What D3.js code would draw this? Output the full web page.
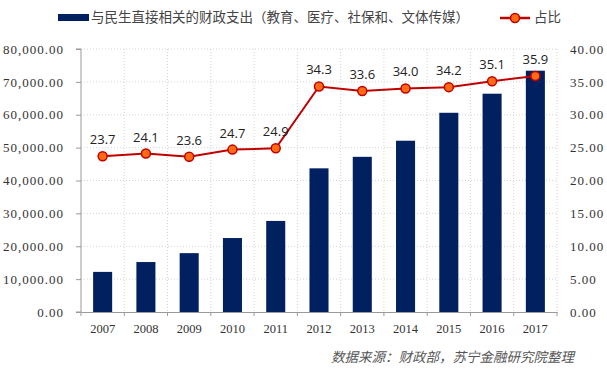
<!DOCTYPE html>
<html>
<head>
<meta charset="utf-8">
<script src="https://cdn.jsdelivr.net/npm/d3@7"></script>
<style>
  body { margin: 0; background: #fff; }
  svg text { font-family: "Noto Sans CJK SC", sans-serif; }
</style>
</head>
<body>
<div id="chart"></div>
<script>
const years = ['2007', '2008', '2009', '2010', '2011', '2012', '2013', '2014', '2015', '2016', '2017']
const spending = [12200, 15200, 17900, 22500, 27700, 43700, 47200, 52100, 60600, 66400, 73400]
const share = [23.7, 24.1, 23.6, 24.7, 24.9, 34.3, 33.6, 34.0, 34.2, 35.1, 35.9]
const leftTicks = [0, 10000, 20000, 30000, 40000, 50000, 60000, 70000, 80000]
const rightTicks = [0, 5, 10, 15, 20, 25, 30, 35, 40]
const barName = '与民生直接相关的财政支出（教育、医疗、社保和、文体传媒）'
const lineName = '占比'
const sourceNote = '数据来源：财政部，苏宁金融研究院整理'

const width = 607, height = 370
const margin = {top: 49, right: 50, bottom: 58, left: 81}
const innerW = width - margin.left - margin.right
const innerH = height - margin.top - margin.bottom

const svg = d3.select('#chart').append('svg')
  .attr('width', width)
  .attr('height', height)
const g = svg.append('g')
  .attr('transform', `translate(${margin.left}, ${margin.top})`)

const x = d3.scaleBand().domain(years).range([0, innerW]).paddingInner(0.56).paddingOuter(0.28)
const xb = d3.scaleBand().domain(years).range([0, innerW])
const yL = d3.scaleLinear().domain([0, 80000]).range([innerH, 0])
const yR = d3.scaleLinear().domain([0, 40]).range([innerH, 0])

// grid
g.selectAll('.hgrid')
  .data(leftTicks.slice(1))
  .enter().append('line')
  .attr('x1', 0).attr('x2', innerW)
  .attr('y1', d => yL(d)).attr('y2', d => yL(d))
  .attr('stroke', '#d4d4d4').attr('stroke-dasharray', '1,2')
g.selectAll('.vgrid')
  .data(years.slice(1).concat(['end']))
  .enter().append('line')
  .attr('x1', (d, i) => xb.step() * (i + 1)).attr('x2', (d, i) => xb.step() * (i + 1))
  .attr('y1', 0).attr('y2', innerH)
  .attr('stroke', '#d4d4d4').attr('stroke-dasharray', '1,2')

// bars
g.selectAll('.bar')
  .data(spending)
  .enter().append('rect')
  .attr('x', (d, i) => x(years[i]))
  .attr('y', d => yL(d))
  .attr('width', x.bandwidth())
  .attr('height', d => innerH - yL(d))
  .attr('fill', '#002060')

// left axis
const axL = g.append('g')
  .call(d3.axisLeft(yL).tickValues(leftTicks).tickSize(5).tickFormat(d3.format(',.2f')))
axL.select('.domain').attr('stroke', '#999').attr('d', `M-5,${innerH}H0V0H-5`)
axL.selectAll('.tick line').attr('stroke', '#999')
axL.selectAll('text')
  .attr('x', -17)
  .style('font-family', '"Liberation Serif", serif')
  .style('font-size', '13px')
  .style('letter-spacing', '1px')
  .attr('fill', '#333')

// right axis
const axR = g.append('g')
  .attr('transform', `translate(${innerW}, 0)`)
  .call(d3.axisRight(yR).tickValues(rightTicks).tickSize(0).tickFormat(d3.format('.2f')))
axR.select('.domain').remove()
axR.selectAll('text')
  .attr('x', 13)
  .style('font-family', '"Liberation Serif", serif')
  .style('font-size', '13px')
  .style('letter-spacing', '1px')
  .attr('fill', '#333')

// bottom axis
const axB = g.append('g')
  .attr('transform', `translate(0, ${innerH})`)
  .call(d3.axisBottom(xb).tickSize(0))
axB.select('.domain').attr('stroke', '#999')
axB.selectAll('.tick line').remove()
axB.selectAll('.sep')
  .data(d3.range(years.length + 1))
  .enter().append('line')
  .attr('x1', i => xb.step() * i).attr('x2', i => xb.step() * i)
  .attr('y1', 0).attr('y2', 4)
  .attr('stroke', '#999')
axB.selectAll('text')
  .attr('y', 12)
  .style('font-family', '"Liberation Serif", serif')
  .style('font-size', '12.5px')
  .attr('fill', '#333')

// line
const cx = i => xb(years[i]) + xb.bandwidth() / 2
const line = d3.line().x((d, i) => cx(i)).y(d => yR(d))
g.append('path')
  .datum(share)
  .attr('d', line)
  .attr('fill', 'none')
  .attr('stroke', '#c00000')
  .attr('stroke-width', 2)
g.selectAll('.dot')
  .data(share)
  .enter().append('circle')
  .attr('cx', (d, i) => cx(i))
  .attr('cy', d => yR(d))
  .attr('r', 4.5)
  .attr('fill', '#ff6a13')
  .attr('stroke', '#c00000')
  .attr('stroke-width', 1.5)
g.selectAll('.lbl')
  .data(share)
  .enter().append('text')
  .attr('x', (d, i) => cx(i))
  .attr('y', d => yR(d) - 12)
  .attr('text-anchor', 'middle')
  .style('font-family', '"Open Sans", sans-serif')
  .style('font-size', '13px')
  .attr('fill', '#222')
  .text(d => d.toFixed(1))

// legend
const lg = svg.append('g')
lg.append('rect').attr('x', 58).attr('y', 14).attr('width', 31).attr('height', 7).attr('fill', '#002060')
lg.append('text').attr('x', 91).attr('y', 22)
  .style('font-size', '13.5px').attr('fill', '#444').text(barName)
lg.append('line').attr('x1', 500).attr('x2', 530).attr('y1', 18).attr('y2', 18)
  .attr('stroke', '#c00000').attr('stroke-width', 2.5)
lg.append('circle').attr('cx', 515).attr('cy', 18).attr('r', 4.5)
  .attr('fill', '#ff6a13').attr('stroke', '#c00000').attr('stroke-width', 1.5)
lg.append('text').attr('x', 534).attr('y', 22)
  .style('font-size', '13.5px').attr('fill', '#444').text(lineName)

// source
svg.append('text')
  .attr('x', 574).attr('y', 362)
  .attr('text-anchor', 'end')
  .style('font-size', '13.5px')
  .style('font-style', 'italic')
  .attr('fill', '#555')
  .text(sourceNote)
</script>
</body>
</html>
